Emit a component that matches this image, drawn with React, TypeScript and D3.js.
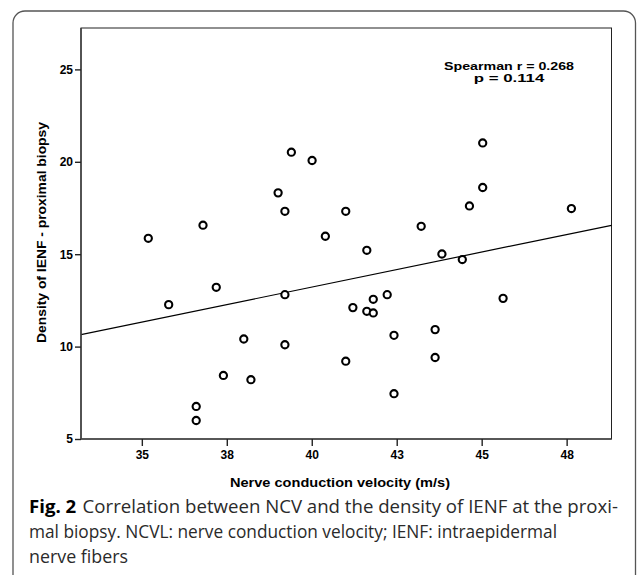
import React from 'react';
import * as d3 from 'd3';

// nerve conduction velocity (m/s) and IENF density
const ncv = [
  35.19, 35.79, 36.8, 37.19, 38.0, 37.4, 38.21, 36.6, 36.6, 39.4, 40.01, 39.01,
  39.21, 41.0, 40.4, 39.21, 39.21, 41.0, 41.21, 45.03, 45.03, 44.64, 47.64,
  43.22, 41.62, 43.83, 44.43, 45.63, 42.22, 41.81, 41.62, 41.81, 42.42, 43.63,
  43.63, 42.42,
];
const ienf = [
  15.86, 12.27, 16.57, 13.21, 10.41, 8.44, 8.21, 6.76, 6.0, 20.52, 20.07, 18.32,
  17.32, 17.32, 15.97, 12.81, 10.1, 9.21, 12.11, 21.02, 18.61, 17.61, 17.47,
  16.51, 15.21, 15.01, 14.71, 12.61, 12.81, 12.56, 11.91, 11.82, 10.61, 10.92,
  9.41, 7.45,
];

const xTicks = [35, 37.5, 40, 42.5, 45, 47.5];
const yTicks = [5, 10, 15, 20, 25];

const fitSlope = 0.379;
const fitIntercept = -1.94;

const statLines = ['Spearman r  = 0.268', 'p = 0.114'];
const statWidths = [130, 70.5];

export default function App() {
  const axisRef = React.useRef<SVGGElement>(null);

  const width = 637;
  const height = 575;
  const left = 81;
  const right = 611.5;
  const top = 28;
  const bottom = 439;

  const x = d3.scaleLinear().domain([33.21, 48.82]).range([left, right]);
  const y = d3.scaleLinear().domain([5, 27.24]).range([bottom, top]);

  React.useEffect(() => {
    if (!axisRef.current) return;
    const g = d3.select(axisRef.current);
    g.selectAll('*').remove();

    const xAxis = g
      .append('g')
      .attr('transform', `translate(0,${bottom})`)
      .call(
        d3
          .axisBottom(x)
          .tickValues(xTicks)
          .tickSize(7)
          .tickPadding(4)
          .tickFormat((d) => String(Math.round(d as number)))
      );
    const yAxis = g
      .append('g')
      .attr('transform', `translate(${left},0)`)
      .call(d3.axisLeft(y).tickValues(yTicks).tickSize(6).tickPadding(2));

    [xAxis, yAxis].forEach((a) => {
      a.select('.domain').attr('stroke', '#444').attr('stroke-width', 1.6);
      a.selectAll('.tick line').attr('stroke', '#222').attr('stroke-width', 1.4);
      a.selectAll('.tick text')
        .attr('fill', '#000')
        .style('font-family', 'Liberation Sans, Arial, sans-serif')
        .style('font-weight', 'bold')
        .style('font-size', '12px');
    });
    xAxis.select('.domain').attr('d', `M${left},0H${right}`);
    yAxis.select('.domain').attr('d', `M0,${bottom}V${top}`);
  }, []);

  const [x0, x1] = x.domain();

  return (
    <svg
      width={width}
      height={height}
      style={{ position: 'absolute', left: 0, top: 0, background: '#fff' }}
    >
      <rect
        x={13}
        y={11}
        width={622.5}
        height={600}
        rx={12}
        fill="none"
        stroke="#555"
        strokeWidth={1.3}
      />
      <rect
        x={left}
        y={top}
        width={right - left}
        height={bottom - top}
        fill="#fff"
        stroke="#222"
        strokeWidth={1}
      />
      <line
        x1={x(x0)}
        y1={y(fitIntercept + fitSlope * x0)}
        x2={x(x1)}
        y2={y(fitIntercept + fitSlope * x1)}
        stroke="#000"
        strokeWidth={1.2}
      />
      <g ref={axisRef} />
      {ncv.map((v, i) => (
        <circle
          key={i}
          cx={x(v)}
          cy={y(ienf[i])}
          r={3.6}
          fill="#fff"
          stroke="#000"
          strokeWidth={2.1}
        />
      ))}
      <g
        style={{ fontFamily: 'Liberation Sans, Arial, sans-serif', fontWeight: 'bold', whiteSpace: 'pre' }}
        fill="#000"
      >
        {statLines.map((s, i) => (
          <text
            key={s}
            x={509 - statWidths[i] / 2}
            y={70 + i * 12}
            fontSize={10.5}
            textLength={statWidths[i]}
            lengthAdjust="spacingAndGlyphs"
          >
            {s}
          </text>
        ))}
        <text
          x={230}
          y={487}
          fontSize={12.5}
          textLength={220}
          lengthAdjust="spacingAndGlyphs"
        >
          Nerve conduction velocity (m/s)
        </text>
        <text
          transform={`translate(46,${343}) rotate(-90)`}
          fontSize={12.5}
          textLength={221}
          lengthAdjust="spacingAndGlyphs"
        >
          Density of IENF - proximal biopsy
        </text>
      </g>
      <g
        style={{ fontFamily: 'Open Sans, sans-serif' }}
        fontSize={17.5}
        fill="#2a2a2a"
      >
        <text x={29} y={513} textLength={589} lengthAdjust="spacingAndGlyphs">
          <tspan fontWeight="bold" fill="#000">Fig. 2</tspan>
          <tspan dx={6}>Correlation between NCV and the density of IENF at the proxi-</tspan>
        </text>
        <text x={29} y={538} textLength={528} lengthAdjust="spacingAndGlyphs">
          mal biopsy. NCVL: nerve conduction velocity; IENF: intraepidermal
        </text>
        <text x={29} y={563} textLength={99} lengthAdjust="spacingAndGlyphs">
          nerve fibers
        </text>
      </g>
    </svg>
  );
}
